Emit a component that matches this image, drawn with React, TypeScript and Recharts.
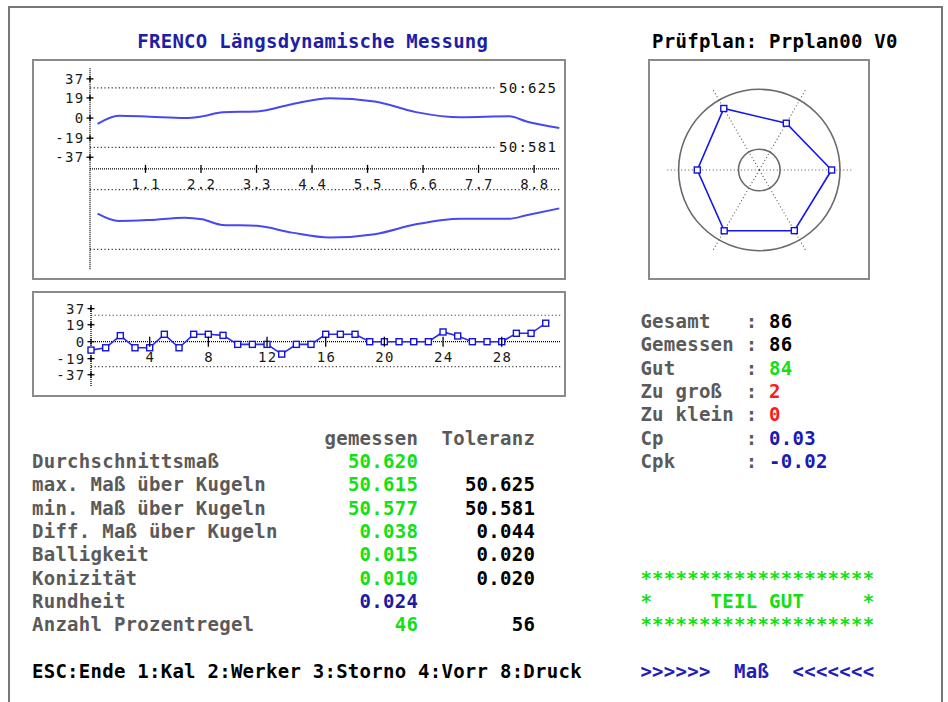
import React from 'react';
import {
  LineChart, Line, XAxis, YAxis, ReferenceLine,
  RadarChart, Radar, PolarGrid, PolarAngleAxis, PolarRadiusAxis,
} from 'recharts';

// ================= data =================
// Longitudinal profile: position along the part and upper / lower contour deviation
const profilePos = [0.15, 0.57, 1.19, 1.88, 2.22, 2.63, 3.31, 4.0, 4.75, 5.64, 6.46, 7.35, 8.31, 8.65, 9.3];
const profileUpper = [-5.4, 2.2, 1.2, 0, 1.6, 5.6, 6.3, 13.1, 18.8, 15.7, 5.6, 0.7, 1.6, -3.2, -9.4];
const profileLower = [-90.2, -97.2, -96.2, -94.1, -95.6, -100.9, -101.8, -108.2, -112.9, -109.7, -100.3, -95.0, -95.0, -91.8, -85.3];
const profileTicks = [1.1, 2.2, 3.3, 4.4, 5.5, 6.6, 7.7, 8.8];
const deviationTicks = [37, 19, 0, -19, -37];
const profileTolerance = [28.5, -27.7];
const profileToleranceLabels = ['50:625', '50:581'];
const profileAxisLevel = -48;
const profileGuides = [-67.5, -124];
const profileDomain = [-143.5, 47];

// Single measurements
const sampleNo = [0, 1, 2, 3, 4, 5, 6, 7, 8, 9, 10, 11, 12, 13, 14, 15, 16, 17, 18, 19, 20, 21, 22, 23, 24, 25, 26, 27, 28, 29, 30, 31];
const sampleDeviation = [-9.4, -6.8, 6.8, -6.8, -6.8, 8.3, -6.8, 8.3, 8.3, 7.1, -3, -3, -3, -13.9, -3, -3, 8.3, 8.3, 8.3, 0, 0, 0, 0, 0, 10.9, 6.4, 0, 0, 0, 9.4, 9.4, 20.7];
const sampleTicks = [4, 8, 12, 16, 20, 24, 28];
const sampleTolerance = [29.6, -28];
const sampleDomain = [-50.4, 41.1];

// Roundness plot
const roundAngles = ['0°', '60°', '120°', '180°', '240°', '300°'];
const roundValues = [78.6, 58.7, 77.2, 67.4, 76.3, 76.1];
const roundRings = [22.6, 87.7];

// Texts
const titleText = 'FRENCO Längsdynamische Messung';
const planText = 'Prüfplan: Prplan00 V0';
const statLabels = ['Gesamt', 'Gemessen', 'Gut', 'Zu groß', 'Zu klein', 'Cp', 'Cpk'];
const statValues = ['86', '86', '84', '2', '0', '0.03', '-0.02'];
const tableHeaders = ['gemessen', 'Toleranz'];
const tableLabels = ['Durchschnittsmaß', 'max. Maß über Kugeln', 'min. Maß über Kugeln', 'Diff. Maß über Kugeln', 'Balligkeit', 'Konizität', 'Rundheit', 'Anzahl Prozentregel'];
const measuredValues = ['50.620', '50.615', '50.577', '0.038', '0.015', '0.010', '0.024', '46'];
const toleranceValues = ['', '50.625', '50.581', '0.044', '0.020', '0.020', '', '56'];
const verdictLines = ['********************', '*     TEIL GUT     *', '********************'];
const footerKeys = 'ESC:Ende 1:Kal 2:Werker 3:Storno 4:Vorr 8:Druck';
const footerMode = '>>>>>>  Maß  <<<<<<<';

// ================= styles =================
const FONT = "'DejaVu Sans Mono', 'Liberation Mono', monospace";
const GREEN = '#14e014';
const RED = '#ff1a1a';
const BLUE = '#1a1ab4';
const GRAY = '#5a5a5a';
const statColors = ['#000', '#000', GREEN, RED, RED, BLUE, BLUE];
const measuredColors = [GREEN, GREEN, GREEN, GREEN, GREEN, GREEN, '#1c1ca0', GREEN];

const CW = 11.7;
const X0 = 32;
const RH = 23.33;
const Y0 = 41.7;
const colX = (c: number) => X0 + c * CW;
const rowY = (r: number) => Y0 + r * RH;

function Txt({ col, row, color = '#000', children }: any) {
  return (
    <div
      style={{
        position: 'absolute', left: colX(col), top: rowY(row) - 11.5, height: 23, lineHeight: '23px',
        fontFamily: FONT, fontSize: 19, fontWeight: 700, color, whiteSpace: 'pre', letterSpacing: 0.26,
      }}
    >
      {children}
    </div>
  );
}

const SMALL: React.CSSProperties = { fontFamily: FONT, fontSize: 14, letterSpacing: 1.3 };

const YTickPlus = (props: any) => {
  const { x, y, payload } = props;
  return (
    <g>
      <line x1={x - 3.5} x2={x + 3.5} y1={y} y2={y} stroke="#000" strokeWidth={1.3} />
      <line x1={x} x2={x} y1={y - 3} y2={y + 3} stroke="#000" strokeWidth={1.3} />
      <text x={x - 5.5} y={y} textAnchor="end" dominantBaseline="central" fill="#1a1a1a" style={SMALL}>
        {payload.value}
      </text>
    </g>
  );
};

const makeXTick = (shift: number, half: number, labelDy: number, digits: number) => (props: any) => {
  const { x, y, payload } = props;
  const ay = y - shift;
  return (
    <g>
      <line x1={x} x2={x} y1={ay - half} y2={ay + half} stroke="#000" strokeWidth={1.3} />
      <text x={x + 0.7} y={ay + labelDy} textAnchor="middle" dominantBaseline="central" fill="#1a1a1a" style={SMALL}>
        {Number(payload.value).toFixed(digits)}
      </text>
    </g>
  );
};

const TolLabel = (props: any) => {
  const { viewBox, text } = props;
  if (!viewBox) return null;
  const right = viewBox.x + viewBox.width - 2;
  return (
    <g>
      <rect x={right - 61} y={viewBox.y - 7} width={63} height={14} fill="#fff" />
      <text x={right} y={viewBox.y} textAnchor="end" dominantBaseline="central" fill="#111" style={SMALL}>
        {text}
      </text>
    </g>
  );
};

const SquareDot = (props: any) => {
  const { cx, cy } = props;
  if (cx == null || cy == null) return null;
  return <rect x={cx - 3} y={cy - 3} width={6} height={6} fill="#fff" stroke="#1212d8" strokeWidth={1.4} />;
};

const boxStyle = (left: number, top: number, width: number, height: number): React.CSSProperties => ({
  position: 'absolute', left, top, width, height, border: '2px solid #8a8a8a', boxSizing: 'border-box',
});

// chart geometry
const TOP_W = 534, TOP_H = 221;
const TOP_M = { top: 9.3, right: 6.7, bottom: 9, left: 0 };
const TOP_YW = 58;
const MID_W = 534, MID_H = 106;
const MID_M = { top: 14, right: 5.6, bottom: 9.3, left: 0 };
const MID_YW = 59;

export default function App() {
  const topData = profilePos.map((p, i) => ({ pos: p, upper: profileUpper[i], lower: profileLower[i] }));
  const midData = sampleNo.map((n, i) => ({ n, dev: sampleDeviation[i] }));
  const roundData = roundAngles.map((a, i) => ({ angle: a, r: roundValues[i] }));

  const topPlotH = TOP_H - TOP_M.top - TOP_M.bottom - 1;
  const topShift = (topPlotH * (profileAxisLevel - profileDomain[0])) / (profileDomain[1] - profileDomain[0]);
  const midPlotH = MID_H - MID_M.top - MID_M.bottom - 1;
  const midShift = (midPlotH * (0 - sampleDomain[0])) / (sampleDomain[1] - sampleDomain[0]);

  const roundOuter = 92;

  return (
    <div style={{ position: 'absolute', left: 0, top: 0, width: 948, height: 702, overflow: 'hidden', background: '#fff' }}>
      <div style={{ ...boxStyle(8, 6, 935, 730), borderColor: '#777' }} />

      {/* boxes */}
      <div style={boxStyle(32, 59, 534, 221)} />
      <div style={boxStyle(32, 291, 534, 106)} />
      <div style={boxStyle(648, 59, 222, 221)} />

      {/* profile chart */}
      <div style={{ position: 'absolute', left: 32, top: 59 }}>
        <LineChart width={TOP_W} height={TOP_H} data={topData} margin={TOP_M}>
          <XAxis
            dataKey="pos" type="number" domain={[0, 9.3]} ticks={profileTicks} interval={0}
            height={1} tickSize={0} tickMargin={0} axisLine={false} tickLine={false}
            tick={makeXTick(topShift, 4, 15.6, 1)}
          />
          <YAxis
            type="number" domain={profileDomain} ticks={deviationTicks} interval={0} width={TOP_YW}
            tickSize={0} tickMargin={0} tickLine={false}
            axisLine={{ stroke: '#000', strokeDasharray: '1 1', strokeWidth: 1.3 }}
            tick={<YTickPlus />}
          />
          {profileTolerance.map((v, i) => (
            <ReferenceLine
              key={'t' + i} y={v} stroke="#333" strokeDasharray="1.2 2.4" strokeWidth={1.2}
              label={<TolLabel text={profileToleranceLabels[i]} />}
            />
          ))}
          <ReferenceLine y={profileAxisLevel} stroke="#000" strokeDasharray="1 1" strokeWidth={1.3} />
          {profileGuides.map((v, i) => (
            <ReferenceLine key={'g' + i} y={v} stroke="#333" strokeDasharray="1.2 2.4" strokeWidth={1.2} />
          ))}
          <Line dataKey="upper" type="monotone" stroke="#4848f2" strokeWidth={2} dot={false} isAnimationActive={false} />
          <Line dataKey="lower" type="monotone" stroke="#4848f2" strokeWidth={2} dot={false} isAnimationActive={false} />
        </LineChart>
      </div>

      {/* single measurements chart */}
      <div style={{ position: 'absolute', left: 32, top: 291 }}>
        <LineChart width={MID_W} height={MID_H} data={midData} margin={MID_M}>
          <XAxis
            dataKey="n" type="number" domain={[0, 32]} ticks={sampleTicks} interval={0}
            height={1} tickSize={0} tickMargin={0} axisLine={false} tickLine={false}
            tick={makeXTick(midShift, 5, 15, 0)}
          />
          <YAxis
            type="number" domain={sampleDomain} ticks={deviationTicks} interval={0} width={MID_YW}
            tickSize={0} tickMargin={0} tickLine={false}
            axisLine={{ stroke: '#000', strokeDasharray: '1 1', strokeWidth: 1.3 }}
            tick={<YTickPlus />}
          />
          {sampleTolerance.map((v, i) => (
            <ReferenceLine key={'s' + i} y={v} stroke="#444" strokeDasharray="1.2 2.4" strokeWidth={1.2} />
          ))}
          <ReferenceLine y={0} stroke="#000" strokeDasharray="1 1" strokeWidth={1.3} />
          <Line
            dataKey="dev" type="linear" stroke="#2a2af0" strokeWidth={1.6}
            dot={<SquareDot />} isAnimationActive={false}
          />
        </LineChart>
      </div>

      {/* roundness chart */}
      <div style={{ position: 'absolute', left: 648, top: 59 }}>
        <RadarChart
          width={222} height={221} cx={111.3} cy={111} outerRadius={roundOuter}
          startAngle={-60} endAngle={300} data={roundData} margin={{ top: 0, right: 0, bottom: 0, left: 0 }}
        >
          <PolarGrid
            gridType="circle" radialLines={false}
            polarRadius={roundRings.map((v) => (v / 100) * roundOuter)}
            stroke="#6a6a6a" strokeWidth={1.6}
          />
          <PolarGrid gridType="circle" radialLines polarRadius={[]} stroke="#555" strokeDasharray="1 2.5" strokeWidth={1.1} />
          <PolarAngleAxis dataKey="angle" tick={false} axisLine={false} tickLine={false} />
          <PolarRadiusAxis type="number" domain={[0, 100]} tick={false} axisLine={false} />
          <Radar
            dataKey="r" stroke="#1414f0" strokeWidth={1.6} fill="none" fillOpacity={0}
            dot={<SquareDot />} isAnimationActive={false}
          />
        </RadarChart>
      </div>

      {/* texts */}
      <Txt col={9} row={0} color="#1e1ea8">{titleText}</Txt>
      <Txt col={53} row={0}>{planText}</Txt>

      {statLabels.map((l, i) => (
        <React.Fragment key={'st' + i}>
          <Txt col={52} row={12 + i} color={GRAY}>{l}</Txt>
          <Txt col={61} row={12 + i} color={GRAY}>:</Txt>
          <Txt col={63} row={12 + i} color={statColors[i]}>{statValues[i]}</Txt>
        </React.Fragment>
      ))}

      <Txt col={25} row={17} color={GRAY}>{tableHeaders[0]}</Txt>
      <Txt col={35} row={17} color={GRAY}>{tableHeaders[1]}</Txt>
      {tableLabels.map((l, i) => (
        <React.Fragment key={'tb' + i}>
          <Txt col={0} row={18 + i} color={GRAY}>{l}</Txt>
          <Txt col={33 - measuredValues[i].length} row={18 + i} color={measuredColors[i]}>{measuredValues[i]}</Txt>
          {toleranceValues[i] ? (
            <Txt col={43 - toleranceValues[i].length} row={18 + i}>{toleranceValues[i]}</Txt>
          ) : null}
        </React.Fragment>
      ))}

      {verdictLines.map((l, i) => (
        <Txt key={'v' + i} col={52} row={23 + i} color={GREEN}>{l}</Txt>
      ))}

      <Txt col={0} row={27}>{footerKeys}</Txt>
      <Txt col={52} row={27} color="#2020b8">{footerMode}</Txt>
    </div>
  );
}
